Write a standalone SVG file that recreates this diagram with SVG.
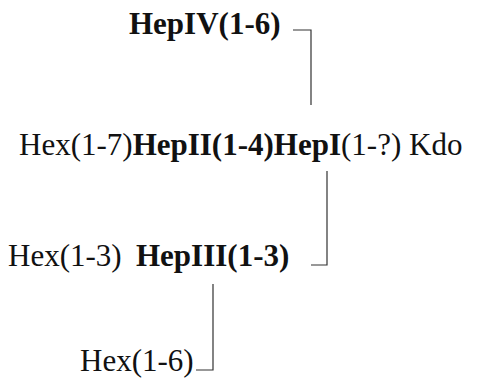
<svg xmlns="http://www.w3.org/2000/svg" width="479" height="378" viewBox="0 0 479 378">
  <style>
    .t { font-family: "Liberation Serif", "Times New Roman", serif; font-size: 31px; fill: #111; }
    .b { font-weight: bold; }
    .link { fill: none; stroke: #333; stroke-width: 1.2; }
  </style>
  <rect width="479" height="378" fill="#fff"/>

  <g id="connectors">
    <path class="link" d="M293,30 H311 V105"/>
    <path class="link" d="M327,171 V265 H311"/>
    <path class="link" d="M213,284 V370 H196"/>
  </g>

  <g id="hepIV">
    <text class="t b" x="129" y="34">HepIV(1-6)</text>
  </g>

  <g id="core-chain">
    <text class="t" x="19" y="155">Hex(1-7)<tspan class="b">HepII(1-4)HepI</tspan>(1-?) Kdo</text>
  </g>

  <g id="hepIII">
    <text class="t" x="8" y="266">Hex(1-3)</text>
    <text class="t b" x="136" y="266">HepIII(1-3)</text>
  </g>

  <g id="hex-1-6">
    <text class="t" x="80" y="371">Hex(1-6)</text>
  </g>
</svg>
